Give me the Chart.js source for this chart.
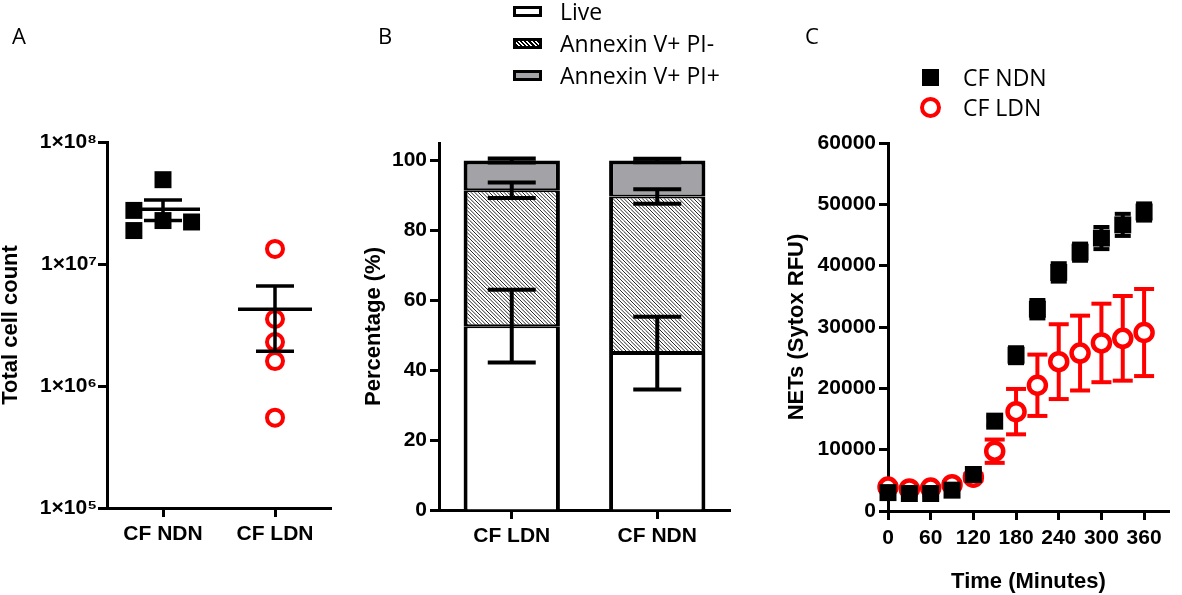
<!DOCTYPE html>
<html><head><meta charset="utf-8">
<script src="https://cdn.jsdelivr.net/npm/chart.js@4"></script>
<style>
html,body{margin:0;padding:0;background:#fff;}
#wrap{position:relative;width:1182px;height:595px;overflow:hidden;background:#fff;}
canvas{position:absolute;left:0;top:0;}
.t{position:absolute;font-family:'Open Sans',sans-serif;font-size:23px;line-height:22px;color:#000;white-space:nowrap;}
.l{font-size:22px;}
.sw{position:absolute;box-sizing:border-box;}
</style></head><body>
<div id="wrap">
<canvas id="cA" width="1182" height="595"></canvas>
<canvas id="cB" width="1182" height="595"></canvas>
<canvas id="cC" width="1182" height="595"></canvas>
</div>
<script>
// ---------- Panel A data ----------
const aCategories = ['CF NDN', 'CF LDN'];
const aNdnValues = [4.91e7, 2.75e7, 1.88e7, 2.27e7, 2.21e7];
const aNdnJitter = [0, -0.26, -0.26, 0, 0.255];
const aLdnValues = [1.33e7, 3.54e6, 2.29e6, 1.6e6, 5.5e5];
const aLdnJitter = [0, 0, 0, 0, 0];
const aMeans = [2.81e7, 4.26e6];
const aSem = [5.4e6, 2.33e6];
const aTicks = [1e5, 1e6, 1e7, 1e8];

// ---------- Panel B data ----------
const bCategories = ['CF LDN', 'CF NDN'];
const bSeriesNames = ['Live', 'Annexin V+ PI-', 'Annexin V+ PI+'];
const bLive = [52.6, 44.9];
const bPIneg = [38.9, 44.8];
const bPIpos = [8.5, 10.3];
const bLiveErr = [10.4, 10.4];
const bPInegErr = [2.2, 2.1];
const bPIposErr = [0.6, 0.5];
const bTicks = [0, 20, 40, 60, 80, 100];

// ---------- Panel C data ----------
const cSeriesNames = ['CF NDN', 'CF LDN'];
const cTimes = [0, 30, 60, 90, 120, 150, 180, 210, 240, 270, 300, 330, 360];
const cNdn = [3000, 2850, 2850, 3400, 5950, 14650, 25400, 32900, 38900, 42200, 44500, 46650, 48750];
const cNdnErr = [300, 300, 300, 300, 500, 700, 1300, 1500, 1500, 1400, 1800, 1800, 1400];
const cLdn = [3900, 3600, 3750, 4300, 5500, 9750, 16200, 20500, 24350, 25750, 27400, 28150, 29100];
const cLdnErr = [400, 300, 300, 400, 500, 1900, 3700, 5000, 6100, 6100, 6400, 6900, 7100];
const cXTicks = [0, 60, 120, 180, 240, 300, 360];
const cYTicks = [0, 10000, 20000, 30000, 40000, 50000, 60000];

// ---------- styles ----------
const RED = '#ff0000';
const GREY = '#a3a3a7';
const TICKFONT = {family: 'Liberation Sans', size: 21, weight: 'bold'};
const TITLEFONT = {family: 'Liberation Sans', size: 22, weight: 'bold', lineHeight: 1};

Chart.defaults.color = '#000';
Chart.defaults.animation = false;
Chart.defaults.events = [];
Chart.defaults.plugins.legend.display = false;
Chart.defaults.plugins.tooltip.enabled = false;

function axis(extra, tickPad, cb) {
  const base = {
    grid: {display: true, drawOnChartArea: false, drawTicks: true, tickLength: 9, tickWidth: 3, tickColor: '#000', color: '#000'},
    border: {display: true, color: '#000', width: 3},
    ticks: {color: '#000', font: TICKFONT, padding: tickPad, maxRotation: 0, autoSkip: false}
  };
  if (cb) base.ticks.callback = cb;
  return Object.assign(base, extra);
}
function fixTicks(arr) { return s => { s.ticks = arr.map(v => ({value: v})); }; }
function line(ctx, x1, y1, x2, y2) { ctx.beginPath(); ctx.moveTo(x1, y1); ctx.lineTo(x2, y2); ctx.stroke(); }

const SUP = {'0':'\u2070','1':'\u00b9','2':'\u00b2','3':'\u00b3','4':'\u2074','5':'\u2075','6':'\u2076','7':'\u2077','8':'\u2078','9':'\u2079'};

// ---------- Panel A ----------
const meanSemPlugin = {
  id: 'meanSem',
  afterDatasetsDraw(chart) {
    const ctx = chart.ctx, sx = chart.scales.x, sy = chart.scales.y;
    ctx.save();
    ctx.strokeStyle = '#000'; ctx.lineWidth = 3.5; ctx.lineCap = 'butt';
    aMeans.forEach((m, i) => {
      const cx = sx.getPixelForValue(i);
      const ym = sy.getPixelForValue(m), yt = sy.getPixelForValue(m + aSem[i]), yb = sy.getPixelForValue(m - aSem[i]);
      line(ctx, cx - 37, ym, cx + 37, ym);
      line(ctx, cx, yt, cx, yb);
      line(ctx, cx - 19, yt, cx + 19, yt);
      line(ctx, cx - 19, yb, cx + 19, yb);
    });
    ctx.restore();
  }
};
new Chart(document.getElementById('cA'), {
  type: 'scatter',
  data: {datasets: [
    {label: aCategories[0], data: aNdnValues.map((v, i) => ({x: 0 + aNdnJitter[i], y: v})),
     pointStyle: 'rect', pointRadius: 12, backgroundColor: '#000', borderWidth: 0, clip: false},
    {label: aCategories[1], data: aLdnValues.map((v, i) => ({x: 1 + aLdnJitter[i], y: v})),
     pointStyle: 'circle', pointRadius: 8, backgroundColor: 'rgba(0,0,0,0)', borderColor: RED, borderWidth: 4, clip: false}
  ]},
  options: {
    responsive: false, devicePixelRatio: 1,
    layout: {padding: {left: 0, top: 142, right: 851, bottom: 27}},
    scales: {
      x: axis({type: 'linear', min: -0.5, max: 1.5, afterBuildTicks: fixTicks([0, 1]),
               afterFit: s => { s.height = 60; }}, 5, v => aCategories[v]),
      y: axis({type: 'logarithmic', min: 1e5, max: 1e8, afterBuildTicks: fixTicks(aTicks),
               afterFit: s => { s.width = 107; },
               title: {display: true, text: 'Total cell count', font: TITLEFONT, padding: 0}}, 1,
               v => '1\u00d710' + String(Math.round(Math.log10(v))).split('').map(d => SUP[d]).join(''))
    }
  },
  plugins: [meanSemPlugin]
});

// ---------- Panel B ----------
function makeHatch() {
  const s = 11, c = document.createElement('canvas');
  c.width = s; c.height = s;
  const g = c.getContext('2d');
  g.fillStyle = '#fff'; g.fillRect(0, 0, s, s);
  g.strokeStyle = '#000'; g.lineWidth = 0.85;
  for (let k = -6; k <= 6; k++) {
    const x0 = k * s / 3;
    g.beginPath(); g.moveTo(x0, 0); g.lineTo(x0 + s, s); g.stroke();
  }
  return document.getElementById('cB').getContext('2d').createPattern(c, 'repeat');
}
const hatch = makeHatch();
const bValues = [bLive, bPIneg, bPIpos];
const bErrs = [bLiveErr, bPInegErr, bPIposErr];
const bFills = ['#ffffff', hatch, GREY];
const bBorders = [
  {left: 4, right: 4, top: 2, bottom: 0},
  {left: 4, right: 4, top: 2, bottom: 2},
  {left: 4, right: 4, top: 4, bottom: 2}
];
const stackErrPlugin = {
  id: 'stackErr',
  afterDatasetsDraw(chart) {
    const ctx = chart.ctx, sy = chart.scales.y;
    ctx.save();
    ctx.strokeStyle = '#000'; ctx.lineWidth = 4;
    bValues.forEach((vals, k) => {
      const meta = chart.getDatasetMeta(k);
      vals.forEach((v, j) => {
        let top = 0;
        for (let q = 0; q <= k; q++) top += bValues[q][j];
        const cx = meta.data[j].x;
        const yt = sy.getPixelForValue(top + bErrs[k][j]), yb = sy.getPixelForValue(top - bErrs[k][j]);
        line(ctx, cx, yt, cx, yb);
        line(ctx, cx - 24, yt, cx + 24, yt);
        line(ctx, cx - 24, yb, cx + 24, yb);
      });
    });
    ctx.restore();
  }
};
new Chart(document.getElementById('cB'), {
  type: 'bar',
  data: {labels: bCategories, datasets: bSeriesNames.map((n, k) => ({
    label: n, data: bValues[k], backgroundColor: bFills[k], borderColor: '#000',
    borderWidth: bBorders[k], borderSkipped: false, barPercentage: 0.662, categoryPercentage: 1
  }))},
  options: {
    responsive: false, devicePixelRatio: 1,
    layout: {padding: {left: 363, top: 143, right: 452, bottom: 25}},
    scales: {
      x: axis({type: 'category', stacked: true, offset: true,
               grid: {display: true, offset: false, drawOnChartArea: false, drawTicks: true, tickLength: 9, tickWidth: 3, tickColor: '#000'},
               afterFit: s => { s.height = 60; }}, 5),
      y: axis({type: 'linear', stacked: true, min: 0, max: 105, afterBuildTicks: fixTicks(bTicks),
               afterFit: s => { s.width = 76; },
               title: {display: true, text: 'Percentage (%)', font: TITLEFONT, padding: 0}}, 3, v => String(v))
    }
  },
  plugins: [stackErrPlugin]
});

// ---------- Panel C ----------
const cVals = [cNdn, cLdn];
const cErrs = [cNdnErr, cLdnErr];
const cColors = ['#000', RED];
const cCapHalf = [8, 10];
const xyErrPlugin = {
  id: 'xyErr',
  beforeDatasetsDraw(chart) {
    const ctx = chart.ctx, sx = chart.scales.x, sy = chart.scales.y;
    ctx.save();
    ctx.lineWidth = 4;
    [1, 0].forEach(k => {
      ctx.strokeStyle = cColors[k];
      cTimes.forEach((t, i) => {
        const cx = sx.getPixelForValue(t);
        const yt = sy.getPixelForValue(cVals[k][i] + cErrs[k][i]), yb = sy.getPixelForValue(cVals[k][i] - cErrs[k][i]);
        line(ctx, cx, yt, cx, yb);
        line(ctx, cx - cCapHalf[k], yt, cx + cCapHalf[k], yt);
        line(ctx, cx - cCapHalf[k], yb, cx + cCapHalf[k], yb);
      });
    });
    ctx.restore();
  }
};
new Chart(document.getElementById('cC'), {
  type: 'scatter',
  data: {datasets: [
    {label: cSeriesNames[0], data: cTimes.map((t, i) => ({x: t, y: cNdn[i]})),
     pointStyle: 'rect', pointRadius: 12, backgroundColor: '#000', borderWidth: 0, clip: false},
    {label: cSeriesNames[1], data: cTimes.map((t, i) => ({x: t, y: cLdn[i]})),
     pointStyle: 'circle', pointRadius: 8.5, backgroundColor: '#fff', borderColor: RED, borderWidth: 4.5, clip: false}
  ]},
  options: {
    responsive: false, devicePixelRatio: 1,
    layout: {padding: {left: 786, top: 143, right: 5, bottom: 2}},
    scales: {
      x: axis({type: 'linear', min: 0, max: 395, afterBuildTicks: fixTicks(cXTicks),
               afterFit: s => { s.height = 82; },
               title: {display: true, text: 'Time (Minutes)', font: TITLEFONT, padding: 0}}, 6, v => String(v)),
      y: axis({type: 'linear', min: 0, max: 60000, afterBuildTicks: fixTicks(cYTicks),
               afterFit: s => { s.width = 102; },
               title: {display: true, text: 'NETs (Sytox RFU)', font: TITLEFONT, padding: 0}}, 3, v => String(v))
    }
  },
  plugins: [xyErrPlugin]
});

// ---------- legends and panel letters (HTML text) ----------
const wrap = document.getElementById('wrap');
function addText(txt, left, cy, center) {
  const d = document.createElement('div');
  d.className = center ? 't l' : 't'; d.textContent = txt;
  d.style.top = (cy - 11) + 'px';
  d.style.left = left + 'px';
  if (center) d.style.transform = 'translateX(-50%)';
  wrap.appendChild(d);
}
function addBox(left, top, w, h, css) {
  const d = document.createElement('div');
  d.className = 'sw';
  Object.assign(d.style, {left: left + 'px', top: top + 'px', width: w + 'px', height: h + 'px'}, css);
  wrap.appendChild(d);
}
addText('A', 19, 35, true);
addText('B', 385, 35, true);
addText('C', 812, 35, true);

const bLegendY = [11, 43, 75];
const bSwatchCss = [
  {background: '#fff', border: '3px solid #000'},
  {background: 'repeating-linear-gradient(45deg, #000 0 1.5px, #fff 1.5px 3px)', border: '3px solid #000'},
  {background: GREY, border: '3px solid #000'}
];
bSeriesNames.forEach((n, k) => {
  addBox(513, bLegendY[k] - 5.5, 29, 11, bSwatchCss[k]);
  addText(n, 560, bLegendY[k], false);
});

const cLegendY = [77, 107];
addBox(930 - 8.5, cLegendY[0] - 8.5, 17, 17, {background: '#000'});
addBox(930 - 10.5, cLegendY[1] - 10.5, 21, 21, {background: '#fff', border: '4.5px solid ' + RED, borderRadius: '50%'});
cSeriesNames.forEach((n, k) => addText(n, 963, cLegendY[k], false));
</script>
</body></html>
